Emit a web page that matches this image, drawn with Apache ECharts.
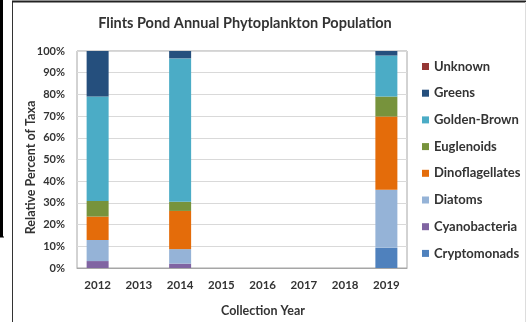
<!DOCTYPE html>
<html>
<head>
<meta charset="utf-8">
<script src="https://cdn.jsdelivr.net/npm/echarts@6/dist/echarts.min.js"></script>
<style>
  html, body { margin:0; padding:0; background:#fff; }
  #chart { width:526px; height:322px; }
</style>
</head>
<body>
<div id="chart"></div>
<script>

var years = ['2012','2013','2014','2015','2016','2017','2018','2019'];

// percent of taxa per year
var cryptomonads    = [0,    null, 0,    null, null, null, null, 9.3];
var cyanobacteria   = [3.2,  null, 2.0,  null, null, null, null, 0];
var diatoms         = [9.7,  null, 6.7,  null, null, null, null, 26.8];
var dinoflagellates = [10.8, null, 17.6, null, null, null, null, 33.7];
var euglenoids      = [7.2,  null, 4.2,  null, null, null, null, 9.2];
var goldenBrown     = [48.1, null, 66.1, null, null, null, null, 18.9];
var greens          = [21.0, null, 3.4,  null, null, null, null, 2.1];
var unknown         = [0,    null, 0,    null, null, null, null, 0];

var yTicks = [0,10,20,30,40,50,60,70,80,90,100];

var taxa = [
  {name:'Cryptomonads',    data:cryptomonads,    color:'#4f81bd'},
  {name:'Cyanobacteria',   data:cyanobacteria,   color:'#8064a2'},
  {name:'Diatoms',         data:diatoms,         color:'#95b3d7'},
  {name:'Dinoflagellates', data:dinoflagellates, color:'#e46c0a'},
  {name:'Euglenoids',      data:euglenoids,      color:'#77933c'},
  {name:'Golden-Brown',    data:goldenBrown,     color:'#4bacc6'},
  {name:'Greens',          data:greens,          color:'#254f7d'},
  {name:'Unknown',         data:unknown,         color:'#953735'}
];

var font = 'Lato, "Open Sans", sans-serif';

var series = [];
for (var i in taxa) {
  series.push({
    name: taxa[i].name,
    type: 'bar',
    stack: 'taxa',
    barWidth: 22,
    itemStyle: {color: taxa[i].color},
    data: taxa[i].data
  });
}

var legendNames = [];
for (var j = taxa.length - 1; j >= 0; j--) {
  legendNames.push(taxa[j].name);
}

var chart = echarts.init(document.getElementById('chart'));
chart.setOption({
  animation: false,
  title: {
    text: 'Flints Pond Annual Phytoplankton Population',
    left: 240, top: 11, textAlign: 'center',
    textStyle: {fontFamily: font, fontSize: 14.5, fontWeight: 'bold', color: '#333'}
  },
  legend: {
    orient: 'vertical',
    left: 422, top: 60,
    padding: 0,
    data: legendNames,
    icon: 'rect',
    itemWidth: 7, itemHeight: 7,
    itemGap: 13.7,
    textStyle: {fontFamily: font, fontSize: 13, fontWeight: 'bold', color: '#333', lineHeight: 13}
  },
  grid: {
    left: 77, right: 119, top: 51, bottom: 54,
    show: true, borderColor: '#a6a6a6', borderWidth: 1
  },
  xAxis: {
    type: 'category',
    data: years,
    name: 'Collection Year',
    nameLocation: 'middle',
    nameGap: 36,
    nameMoveOverlap: false,
    nameTextStyle: {fontFamily: font, fontSize: 12.5, fontWeight: 'bold', color: '#333', padding: [0,0,0,42]},
    axisLine: {lineStyle: {color: '#a6a6a6'}},
    axisTick: {show: false},
    axisLabel: {fontFamily: font, fontSize: 11.5, fontWeight: 'bold', color: '#333', margin: 11}
  },
  yAxis: {
    type: 'value',
    min: 0, max: 100, interval: 10,
    name: 'Relative Percent of Taxa',
    nameLocation: 'middle',
    nameGap: 40,
    nameMoveOverlap: false,
    nameTextStyle: {fontFamily: font, fontSize: 12.5, fontWeight: 'bold', color: '#333', padding: [0,16,0,0]},
    axisLine: {show: false},
    axisTick: {show: false},
    splitLine: {lineStyle: {color: '#d9d9d9'}},
    axisLabel: {
      fontFamily: font, fontSize: 11, fontWeight: 'bold', color: '#333', margin: 12,
      formatter: function (v) { return yTicks.indexOf(v) >= 0 ? v + '%' : ''; }
    }
  },
  graphic: [
    {type:'line', shape:{x1:1.5, y1:0, x2:1.5, y2:237}, style:{stroke:'#000', lineWidth:3}},
    {type:'line', shape:{x1:0, y1:237, x2:4, y2:237}, style:{stroke:'#000', lineWidth:1}},
    {type:'line', shape:{x1:12.5, y1:2, x2:12.5, y2:322}, style:{stroke:'#333', lineWidth:1}},
    {type:'line', shape:{x1:12, y1:1.5, x2:526, y2:1.5}, style:{stroke:'#222', lineWidth:2}},
    {type:'line', shape:{x1:525.5, y1:2, x2:525.5, y2:322}, style:{stroke:'#ddd', lineWidth:1}}
  ],
  series: series
});
</script>
</body>
</html>
